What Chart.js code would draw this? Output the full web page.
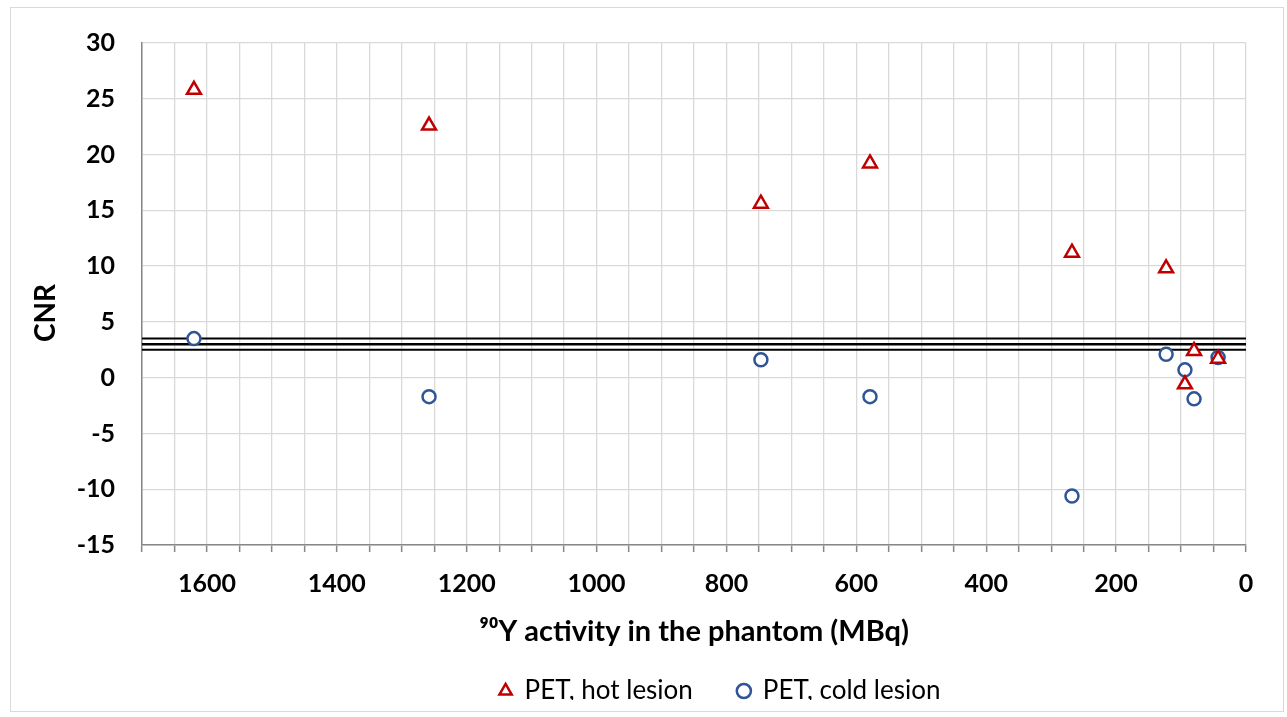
<!DOCTYPE html>
<html>
<head>
<meta charset="utf-8">
<title>CNR vs 90Y activity</title>
<script src="https://cdn.jsdelivr.net/npm/chart.js@4.4.1/dist/chart.umd.min.js"></script>
<style>
  html, body { margin: 0; padding: 0; background: #fff; }
  #wrap { position: relative; width: 1287px; height: 717px; }
  #frame { position: absolute; left: 10px; top: 7px; width: 1272px; height: 703px; border: 1px solid #d9d9d9; }
  #cnr { position: absolute; left: 0; top: 0; }
</style>
</head>
<body>
<div id="wrap">
  <div id="frame"></div>
  <canvas id="cnr" width="1287" height="717"></canvas>
</div>
<script>
// activity in the phantom (MBq)
const activity = [1620, 1258, 747, 579, 268, 123, 94, 80, 43];
// CNR values
const cnr_hot = [25.8, 22.6, 15.6, 19.2, 11.2, 9.8, -0.6, 2.4, 1.7];
const cnr_cold = [3.5, -1.7, 1.6, -1.7, -10.6, 2.1, 0.7, -1.9, 1.8];
// horizontal reference lines
const ref_lines = [3.5, 3.0, 2.5];
const x_range = [0, 1700];

const FONT = "Lato";

const hot = activity.map((a, i) => ({ x: a, y: cnr_hot[i] }));
const cold = activity.map((a, i) => ({ x: a, y: cnr_cold[i] }));

const lines = ref_lines.map((v) => ({
  type: "line",
  label: "ref " + v,
  data: x_range.map((x) => ({ x: x, y: v })),
  borderColor: "#000000",
  borderWidth: v === 3.0 ? 2.5 : 2,
  pointRadius: 0,
  order: 2,
}));

// moves the legend to where it sits in the original
const legendShift = {
  id: "legendShift",
  afterLayout(chart) {
    const l = chart.legend;
    l.left += 92;
    l.right += 92;
    l.top -= 17;
    l.bottom -= 17;
  },
};

// y axis title, a bit below the middle of the axis like in the original
const yTitle = {
  id: "yTitle",
  afterDraw(chart) {
    const ctx = chart.ctx;
    ctx.save();
    ctx.translate(46, 313);
    ctx.rotate(-Math.PI / 2);
    ctx.font = "bold 28px " + FONT;
    ctx.fillStyle = "#000000";
    ctx.textAlign = "center";
    ctx.textBaseline = "middle";
    ctx.fillText("CNR", 0, 0);
    ctx.restore();
  },
};

new Chart(document.getElementById("cnr"), {
  type: "scatter",
  data: {
    datasets: [
      {
        label: "PET, hot lesion",
        data: hot,
        pointStyle: "triangle",
        pointRadius: 8,
        pointBorderWidth: 2.5,
        borderWidth: 2.5,
        borderColor: "#c00000",
        backgroundColor: "#ffffff",
        order: 0,
      },
      {
        label: "PET, cold lesion",
        data: cold,
        pointStyle: "circle",
        pointRadius: 6.5,
        pointBorderWidth: 2.5,
        borderWidth: 2.5,
        borderColor: "#2f5597",
        backgroundColor: "#ffffff",
        order: 1,
      },
      ...lines,
    ],
  },
  options: {
    responsive: false,
    animation: false,
    layout: {
      padding: { left: 10, right: 41, top: 43, bottom: 0 },
    },
    scales: {
      x: {
        type: "linear",
        reverse: true,
        min: 0,
        max: 1700,
        afterFit: function (scale) {
          scale.height = 105;
        },
        grid: {
          color: "#d9d9d9",
          lineWidth: 1.3,
          tickColor: "#878787",
          tickLength: 7,
          tickWidth: 1.5,
        },
        border: { color: "#878787", width: 1.5 },
        ticks: {
          stepSize: 50,
          autoSkip: false,
          maxRotation: 0,
          padding: 17,
          color: "#000000",
          font: { family: FONT, size: 25, weight: "bold" },
          callback: function (val) {
            return val % 200 === 0 ? val : "";
          },
        },
        title: {
          display: true,
          text: "⁹⁰Y activity in the phantom (MBq)",
          color: "#000000",
          font: { family: FONT, size: 29, weight: "bold" },
          padding: { top: 0, bottom: 1 },
        },
      },
      y: {
        min: -15,
        max: 30,
        afterFit: function (scale) {
          scale.width = 132;
        },
        grid: {
          color: "#d9d9d9",
          lineWidth: 1.3,
          drawTicks: false,
        },
        border: { color: "#878787", width: 1.5 },
        ticks: {
          stepSize: 5,
          padding: 27,
          color: "#000000",
          font: { family: FONT, size: 25, weight: "bold" },
        },
      },
    },
    plugins: {
      legend: {
        position: "bottom",
        maxHeight: 67,
        labels: {
          usePointStyle: true,
          boxWidth: 12,
          boxHeight: 10,
          padding: 45,
          color: "#000000",
          font: { family: FONT, size: 26 },
          filter: function (item) {
            return item.datasetIndex < 2;
          },
        },
      },
      tooltip: { enabled: false },
    },
  },
  plugins: [legendShift, yTitle],
});
</script>
</body>
</html>
